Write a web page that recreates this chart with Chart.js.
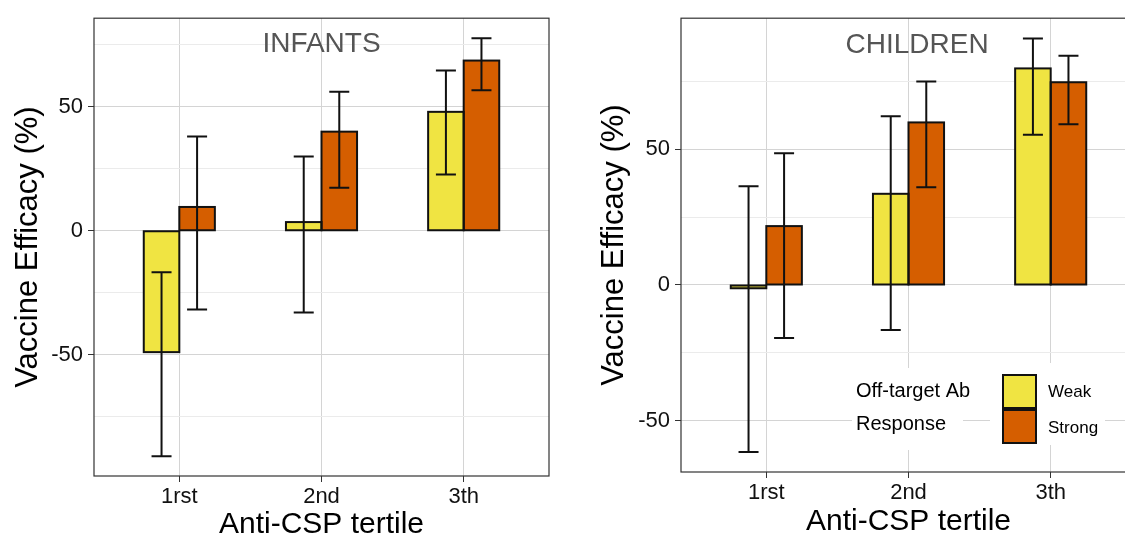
<!DOCTYPE html>
<html>
<head>
<meta charset="utf-8">
<script src="https://cdn.jsdelivr.net/npm/chart.js@4.4.1/dist/chart.umd.min.js"></script>
<style>
    html, body { margin: 0; padding: 0; background: #fff; overflow: hidden; width: 1125px; height: 538px; }
    #infantsChart { position: absolute; left: 0; top: 0; }
    #childrenChart { position: absolute; left: 560px; top: 0; }
</style>
</head>
<body>
<canvas id="infantsChart" width="560" height="538"></canvas>
<canvas id="childrenChart" width="580" height="538"></canvas>
<script>
// -------------------------------
// DATA
// -------------------------------
const tertiles = ["1rst", "2nd", "3th"];

const infantsWeak = [-49, 3.5, 48];
const infantsWeakLo = [-91, -33, 22.7];
const infantsWeakHi = [-16.8, 30, 64.7];
const infantsStrong = [9.6, 40, 68.7];
const infantsStrongLo = [-31.8, 17.4, 56.7];
const infantsStrongHi = [38, 56.1, 77.7];

const childrenWeak = [-1.2, 33.6, 79.8];
const childrenWeakLo = [-61.5, -16.6, 55.4];
const childrenWeakHi = [36.4, 62.2, 90.8];
const childrenStrong = [21.7, 59.9, 74.7];
const childrenStrongLo = [-19.5, 36, 59.2];
const childrenStrongHi = [48.5, 75, 84.5];

const infantsYTicks = [-75, -50, -25, 0, 25, 50, 75];
const childrenYTicks = [-50, -25, 0, 25, 50, 75];

// -------------------------------
// STYLE
// -------------------------------
const FAMILY = "'Liberation Sans', Arial, Helvetica, sans-serif";
const WEAK_COLOR = "#F0E442";
const STRONG_COLOR = "#D55E00";
const GRID_MAJOR = "#d4d4d4";
const GRID_MINOR = "#ebebeb";
const INK = "#111";

// -------------------------------
// PLUGINS
// -------------------------------
const barsAndErrors = {
    id: "barsAndErrors",
    afterDatasetsDraw(chart) {
        const ctx = chart.ctx;
        const yScale = chart.scales.y;
        ctx.save();
        ctx.strokeStyle = INK;
        ctx.lineWidth = 2;
        // outlines, centred on the bar edges like ggplot
        chart.data.datasets.forEach((ds, d) => {
            chart.getDatasetMeta(d).data.forEach(bar => {
                const { x, y, base, width } = bar.getProps(["x", "y", "base", "width"], true);
                ctx.strokeRect(x - width / 2, Math.min(y, base), width, Math.abs(base - y));
            });
        });
        // error bars on top
        chart.data.datasets.forEach((ds, d) => {
            chart.getDatasetMeta(d).data.forEach((bar, i) => {
                const x = bar.x;
                const lo = yScale.getPixelForValue(ds.errLo[i]);
                const hi = yScale.getPixelForValue(ds.errHi[i]);
                const cap = 10;
                ctx.beginPath();
                ctx.moveTo(x, hi); ctx.lineTo(x, lo);
                ctx.moveTo(x - cap, hi); ctx.lineTo(x + cap, hi);
                ctx.moveTo(x - cap, lo); ctx.lineTo(x + cap, lo);
                ctx.stroke();
            });
        });
        ctx.restore();
    }
};

const panelDecor = {
    id: "panelDecor",
    afterDraw(chart, args, opts) {
        const ctx = chart.ctx;
        const { left, top, right, bottom } = chart.chartArea;
        ctx.save();

        // panel label
        ctx.font = "28px " + FAMILY;
        ctx.fillStyle = "#555";
        ctx.textAlign = "center";
        ctx.textBaseline = "middle";
        ctx.fillText(opts.label, chart.scales.x.getPixelForValue(opts.labelX), chart.scales.y.getPixelForValue(opts.labelY));

        if (opts.legend) {
            const lx = opts.legend.x, ly = opts.legend.y;
            ctx.fillStyle = "#fff";
            ctx.fillRect(lx - 4, ly - 7, 111, 82);
            ctx.fillRect(lx + 134, ly - 12, 115, 82);

            ctx.fillStyle = "#000";
            ctx.textAlign = "left";
            ctx.textBaseline = "alphabetic";
            ctx.font = "20px " + FAMILY;
            ctx.fillText("Off-target Ab", lx, ly + 22);
            ctx.fillText("Response", lx, ly + 55);

            ctx.lineWidth = 2;
            ctx.strokeStyle = INK;
            ctx.fillStyle = WEAK_COLOR;
            ctx.fillRect(lx + 147, ly, 33, 33);
            ctx.strokeRect(lx + 147, ly, 33, 33);
            ctx.fillStyle = STRONG_COLOR;
            ctx.fillRect(lx + 147, ly + 35, 33, 33);
            ctx.strokeRect(lx + 147, ly + 35, 33, 33);

            ctx.fillStyle = "#000";
            ctx.font = "17px " + FAMILY;
            ctx.textBaseline = "middle";
            ctx.fillText("Weak", lx + 192, ly + 17);
            ctx.fillText("Strong", lx + 192, ly + 53);
        }

        // panel border
        ctx.strokeStyle = "#333";
        ctx.lineWidth = 1.2;
        ctx.strokeRect(left, top, right - left, bottom - top);
        ctx.restore();
    }
};

// -------------------------------
// CHART BUILDER
// -------------------------------
function buildPanel(canvasId, cfg) {
    const toPoints = arr => arr.map((v, i) => ({ x: i + 1, y: v }));
    return new Chart(document.getElementById(canvasId), {
        type: "bar",
        data: {
            datasets: [
                { label: "Weak", data: toPoints(cfg.weak), errLo: cfg.weakLo, errHi: cfg.weakHi, backgroundColor: WEAK_COLOR, borderWidth: 0 },
                { label: "Strong", data: toPoints(cfg.strong), errLo: cfg.strongLo, errHi: cfg.strongHi, backgroundColor: STRONG_COLOR, borderWidth: 0 }
            ]
        },
        options: {
            responsive: false,
            animation: false,
            categoryPercentage: 0.5,
            barPercentage: 1,
            layout: { padding: cfg.padding },
            plugins: {
                legend: { display: false },
                tooltip: { enabled: false },
                panelDecor: { label: cfg.label, labelX: cfg.labelX, labelY: cfg.labelY, legend: cfg.legend }
            },
            scales: {
                x: {
                    type: "linear",
                    min: 0.4,
                    max: 3.6,
                    offset: false,
                    afterBuildTicks: s => { s.ticks = tertiles.map((_, i) => ({ value: i + 1 })); },
                    afterFit: s => { s.height = cfg.xHeight; },
                    ticks: { callback: v => tertiles[v - 1], font: { family: FAMILY, size: 22 }, color: "#111", padding: 2, maxRotation: 0, autoSkip: false },
                    grid: { offset: false, color: GRID_MAJOR, tickColor: "#333", tickLength: 6 },
                    border: { display: false },
                    title: { display: true, text: "Anti-CSP tertile", color: "#000", font: { family: FAMILY, size: 30, lineHeight: 1 }, padding: { top: 0, bottom: cfg.xTitlePad } }
                },
                y: {
                    min: cfg.yMin,
                    max: cfg.yMax,
                    afterBuildTicks: s => { s.ticks = cfg.yTicks.map(v => ({ value: v })); },
                    afterFit: s => { s.width = cfg.yWidth; },
                    ticks: { callback: v => (v % 50 === 0 ? String(v) : ""), font: { family: FAMILY, size: 22 }, color: "#111", padding: 5 },
                    grid: {
                        color: c => (c.tick && c.tick.value % 50 === 0 ? GRID_MAJOR : GRID_MINOR),
                        tickColor: c => (c.tick && c.tick.value % 50 === 0 ? "#333" : "rgba(0,0,0,0)"),
                        tickLength: 6
                    },
                    border: { display: false },
                    title: { display: true, text: "Vaccine Efficacy (%)", color: "#000", font: { family: FAMILY, size: 31, lineHeight: 1 }, padding: { top: cfg.yTitlePad, bottom: 0 } }
                }
            }
        },
        plugins: [barsAndErrors, panelDecor]
    });
}

// -------------------------------
// INITIALIZE
// -------------------------------
buildPanel("infantsChart", {
    weak: infantsWeak, weakLo: infantsWeakLo, weakHi: infantsWeakHi,
    strong: infantsStrong, strongLo: infantsStrongLo, strongHi: infantsStrongHi,
    yMin: -99, yMax: 85.8, yTicks: infantsYTicks,
    yWidth: 94, xHeight: 62,
    padding: { top: 15, right: 11, left: 0, bottom: 0 },
    yTitlePad: 12.5, xTitlePad: -2,
    label: "INFANTS", labelX: 2, labelY: 75.4,
    legend: null
});

buildPanel("childrenChart", {
    weak: childrenWeak, weakLo: childrenWeakLo, weakHi: childrenWeakHi,
    strong: childrenStrong, strongLo: childrenStrongLo, strongHi: childrenStrongHi,
    yMin: -68.9, yMax: 98.3, yTicks: childrenYTicks,
    yWidth: 121, xHeight: 66,
    padding: { top: 11, right: 4, left: 0, bottom: 0 },
    yTitlePad: 38.5, xTitlePad: 1.3,
    label: "CHILDREN", labelX: 2.06, labelY: 88.5,
    legend: { x: 296, y: 375 }
});
</script>
</body>
</html>
